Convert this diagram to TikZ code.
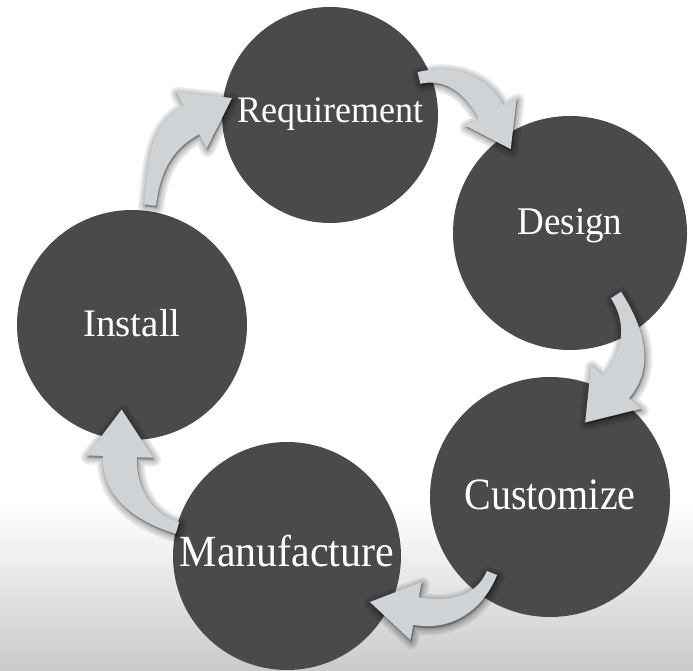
\documentclass[tikz,border=0pt]{standalone}
\usepackage{fontspec}
\setmainfont{Liberation Serif}
\usetikzlibrary{calc}
\definecolor{circ}{RGB}{74,74,76}
\definecolor{arrowfill}{RGB}{208,211,213}
\definecolor{bggray}{RGB}{202,202,202}
\tikzset{
  stage/.style={circle, fill=circ, draw=none, inner sep=0pt, minimum size=#1},
  lbl/.style={text=white, anchor=base, inner sep=0pt},
  cyfill/.style={fill=arrowfill, draw=none},
  cyshadow/.style={draw=black, fill=black, line join=round, draw opacity=0.08, fill opacity=0.08, line width=#1},
}
% #1 id, #2 tail coordinate, #3 tail direction, #4 head-base coordinate, #5 head direction,
% #6 tail width, #7 band width at head, #8 head width, #9 head length
\newcommand\cyarrow[9]{%
  \pgfmathsetmacro\cyback{#5+180}%
  \coordinate (#1tl) at ($(#2)+({#3+90}:{#6/2})$);
  \coordinate (#1tr) at ($(#2)+({#3-90}:{#6/2})$);
  \coordinate (#1bl) at ($(#4)+({#5+90}:{#7/2})$);
  \coordinate (#1br) at ($(#4)+({#5-90}:{#7/2})$);
  \coordinate (#1hl) at ($(#4)+({#5+90}:{#8/2})$);
  \coordinate (#1hr) at ($(#4)+({#5-90}:{#8/2})$);
  \coordinate (#1p) at ($(#4)+(#5:#9)$);
  \def\cypath{(#1tl) to[out=#3,in=\cyback] (#1bl) -- (#1hl) -- (#1p) -- (#1hr) -- (#1br) to[out=\cyback,in=#3] (#1tr) -- cycle}%
  \begin{scope}[transform canvas={shift={(1pt,-2pt)}}]
    \foreach \lw in {14,10,6,3}{\path[cyshadow=\lw pt] \cypath;}
  \end{scope}
  \path[cyfill] \cypath;
}
\begin{document}
\begin{tikzpicture}[x=1pt,y=1pt]
\useasboundingbox (0,0) rectangle (693,671);
\fill[white] (0,0) rectangle (693,671);
\shade[top color=white, bottom color=bggray] (0,0) rectangle (693,166);

\node[stage=216pt] (req) at (330,556) {};
\node[stage=234pt] (des) at (570,438) {};
\node[stage=240pt] (cus) at (550,174) {};
\node[stage=228pt] (man) at (287,115) {};
\node[stage=230pt] (ins) at (132,346) {};

\coordinate (t1) at ($(req)+(89,37)$);
\coordinate (b1) at ($(des)+(-79,121)$);
\coordinate (t2) at ($(des)+(46,-62)$);
\coordinate (b2) at ($(cus)+(66,110)$);
\coordinate (t3) at ($(cus)+(-58,-76)$);
\coordinate (b3) at ($(man)+(129,-55)$);
\coordinate (t4) at ($(man)+(-109.5,28)$);
\coordinate (b4) at ($(ins)+(-12,-131.5)$);
\coordinate (t5) at ($(ins)+(18,120)$);
\coordinate (b5) at ($(req)+(-138.5,-5)$);

\cyarrow{a1}{t1}{14}{b1}{-62}{12}{28}{58}{42}
\cyarrow{a2}{t2}{-57}{b2}{-131}{12}{34}{66}{47}
\cyarrow{a3}{t3}{-112}{b3}{169}{11}{28}{59}{47}
\cyarrow{a4}{t4}{163}{b4}{88}{12}{34}{66}{47}
\cyarrow{a5}{t5}{83}{b5}{28.5}{12}{32}{64}{46}

\node[lbl, font=\fontsize{36}{43}\selectfont] (reqt) at ($(req)+(0,-8)$) {\scalebox{1}[1.04]{Requirement}};
\node[lbl, font=\fontsize{37}{44}\selectfont] (dest) at ($(des)+(0,-2)$) {\scalebox{1}[1.06]{Design}};
\node[lbl, font=\fontsize{40}{48}\selectfont] (cust) at ($(cus)+(0,-13)$) {\scalebox{1}[1.12]{Customize}};
\node[lbl, font=\fontsize{42}{50}\selectfont] (mant) at ($(man)+(0,-11)$) {\scalebox{1}[1.06]{Manufacture}};
\node[lbl, font=\fontsize{39}{47}\selectfont] (inst) at ($(ins)+(0,-12)$) {Install};
\end{tikzpicture}
\end{document}
